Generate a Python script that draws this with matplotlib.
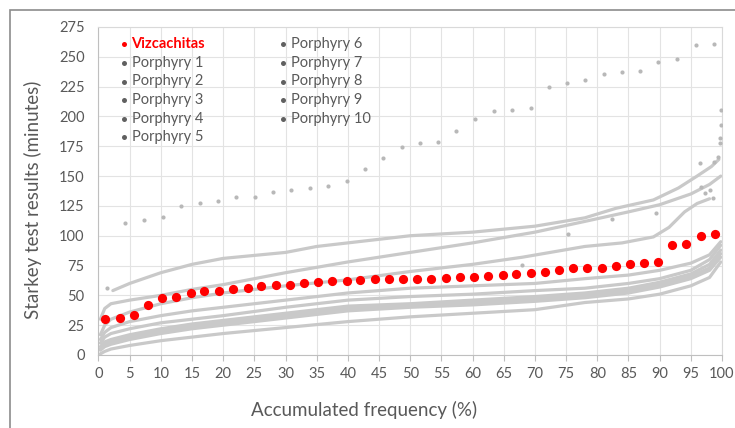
import matplotlib.pyplot as plt
from matplotlib.lines import Line2D
from matplotlib.patches import Rectangle

plt.rcParams['font.family'] = ['Lato', 'DejaVu Sans']

# Vizcachitas (red dots)
viz_x = [1.1, 3.4, 5.7, 8.0, 10.2, 12.5, 14.8, 17.0, 19.3, 21.6, 23.9, 26.1, 28.4, 30.7,
         33.0, 35.2, 37.5, 39.8, 42.0, 44.3, 46.6, 48.9, 51.1, 53.4, 55.7, 58.0, 60.2, 62.5,
         64.8, 67.0, 69.3, 71.6, 73.9, 76.1, 78.4, 80.7, 83.0, 85.2, 87.5, 89.8, 92.0, 94.3,
         96.6, 98.9]
viz_y = [30.2, 30.7, 33.5, 41.6, 47.5, 48.9, 52.2, 53.9, 53.9, 55.6, 56.2, 58.1, 58.7, 58.7,
         60.4, 61.4, 62.0, 62.0, 62.9, 63.4, 63.4, 64.0, 64.0, 64.0, 64.8, 65.4, 65.4, 65.9,
         66.8, 67.6, 69.0, 69.6, 71.5, 72.9, 72.9, 72.9, 74.3, 76.3, 76.8, 77.7, 91.9, 92.7,
         99.4, 101.4]

# porphyry with few samples (sparse top dots)
sparse_x = [1.4, 4.25, 7.35, 10.3, 13.2, 16.2, 19.1, 22.1, 25.1, 28.0, 30.9, 33.9, 36.8, 39.8,
            42.7, 45.7, 48.6, 51.6, 54.5, 57.4, 60.4, 63.4, 66.3, 69.3, 72.2, 75.1, 78.1, 81.0,
            84.0, 86.9, 89.8, 92.8, 95.8, 98.7]
sparse_y = [56.4, 110.9, 113.2, 115.4, 124.9, 127.7, 129.1, 132.2, 132.7, 136.6, 138.3, 140.2,
            141.7, 145.8, 155.9, 165.1, 174.1, 178.0, 178.8, 188.0, 197.6, 204.8, 205.4, 207.3,
            224.6, 228.3, 230.5, 235.3, 237.2, 237.8, 245.8, 247.9, 260.0, 260.8]

# dense porphyry curves (read along each band)
a_x = [2.3, 5, 10, 15, 20, 25, 30, 35, 40, 50, 60, 70, 78, 83, 89, 93, 96, 98.3, 99.5]
a_y = [54, 60, 69, 76, 81, 83.5, 86, 91, 94, 100, 103, 108, 115, 123, 130, 140, 150, 158, 164]

c_x = [0.3, 1, 2, 5, 10, 15, 20, 30, 40, 50, 60, 68, 78, 84, 89, 91.5, 94, 96, 98]
c_y = [17, 25, 30, 36, 43, 48, 52, 58, 63, 70, 76, 82, 91, 94, 99, 107, 120, 127, 131]

grid_x = [0.3, 1, 2, 5, 10, 15, 20, 30, 40, 50, 60, 70, 78, 85, 90, 95, 98, 99.8]
b_y = [30, 39, 43, 46, 50, 55, 59, 69, 78, 86, 94, 103, 112, 120, 126, 135, 143, 150]
d_y = [13, 19, 23, 28, 33, 37, 40, 46, 52, 56, 58, 60, 64, 67, 71, 77, 84, 95]
e_y = [10, 15, 18, 22, 27, 30, 33, 40, 46, 49, 51, 54, 56, 60, 64, 71, 80, 92]
f1_y = [7, 11, 13, 17, 22, 26, 29, 35, 41, 43, 46, 49, 52, 56, 61, 68, 76, 88]
f2_y = [5, 9, 11, 15, 20, 24, 27, 33, 39, 42, 44, 47, 50, 54, 59, 66, 73, 85]
f3_y = [4, 7, 9, 13, 18, 22, 25, 31, 37, 40, 42, 45, 48, 52, 57, 64, 71, 82]
h_y = [1, 3, 5, 8, 12, 15, 18, 23, 28, 32, 35, 38, 44, 47, 51, 58, 65, 78]

# stray points near the curve ends
out_x = [75.3, 82.3, 89.4, 68.0, 96.5, 96.7, 97.3, 98.0, 98.5, 98.7, 99.3, 99.6, 99.7, 99.8, 99.9]
out_y = [101.4, 113.7, 118.8, 75.4, 160.7, 141.0, 135.5, 138.0, 131.3, 162.0, 166.0, 181.6, 178.0, 192.8, 205.0]

legend_names = ['Vizcachitas', 'Porphyry 1', 'Porphyry 2', 'Porphyry 3', 'Porphyry 4', 'Porphyry 5',
                'Porphyry 6', 'Porphyry 7', 'Porphyry 8', 'Porphyry 9', 'Porphyry 10']
x_ticks = list(range(0, 101, 5))
y_ticks = list(range(0, 276, 25))

GRAY = '#C9C9C9'
TXT = '#595959'

fig = plt.figure(figsize=(7.35, 4.28), dpi=100)
ax = fig.add_axes([98.5 / 735, 73 / 428, (722 - 98.5) / 735, (355 - 27) / 428])

for x, y in [(a_x, a_y), (c_x, c_y)]:
    ax.plot(x, y, color=GRAY, lw=2.3, solid_capstyle='round', solid_joinstyle='round', zorder=2)
for y in [b_y, d_y, e_y, f1_y, f2_y, f3_y, h_y]:
    ax.plot(grid_x, y, color=GRAY, lw=2.3, solid_capstyle='round', solid_joinstyle='round', zorder=2)

ax.scatter(sparse_x, sparse_y, s=9, color='#B8B8B8', lw=0, zorder=3)
ax.scatter(out_x, out_y, s=9, color='#B8B8B8', lw=0, zorder=3)
ax.scatter(viz_x, viz_y, s=44, color='#FF0000', lw=0, zorder=4)

ax.set_xlim(0, 100)
ax.set_ylim(0, 275)
ax.set_xticks(x_ticks)
ax.set_yticks(y_ticks)
ax.grid(True, color='#E3E3E3', lw=0.8, zorder=0)
ax.set_axisbelow(True)
for side in ['top', 'right']:
    ax.spines[side].set_color('#D9D9D9')
for side in ['left', 'bottom']:
    ax.spines[side].set_color('#BFBFBF')
ax.tick_params(axis='x', colors='#BFBFBF', length=4, labelcolor=TXT, labelsize=10.5, pad=5)
ax.tick_params(axis='y', length=0, labelcolor=TXT, labelsize=10.5, pad=10)

fig.text(33 / 735, 1 - 200 / 428, 'Starkey test results (minutes)', rotation=90,
         ha='center', va='center', fontsize=13.5, color=TXT)
fig.text(364 / 735, 1 - 410 / 428, 'Accumulated frequency (%)',
         ha='center', va='center', fontsize=13.5, color=TXT)

# legend, two columns
for i, name in enumerate(legend_names):
    col = 0 if i < 6 else 1
    row = i if i < 6 else i - 6
    mx = (123.7 if col == 0 else 283.3) / 735
    tx = (131.5 if col == 0 else 291.3) / 735
    yy = 1 - (44.3 + 18.6 * row) / 428
    red = i == 0
    fig.add_artist(Line2D([mx], [yy], marker='o', ms=3.6, ls='', mew=0,
                          color='#FF0000' if red else '#606060', transform=fig.transFigure))
    fig.text(tx, yy, name, ha='left', va='center', fontsize=10.5,
             color='#FF0000' if red else TXT, fontweight='bold' if red else 'normal')

fig.add_artist(Rectangle((10 / 735, -0.1), 1.2, 0.1 + (428 - 9.5) / 428, fill=False,
                         ec='#8C8C8C', lw=1.2, transform=fig.transFigure))

fig.savefig('out.png', dpi=100)
